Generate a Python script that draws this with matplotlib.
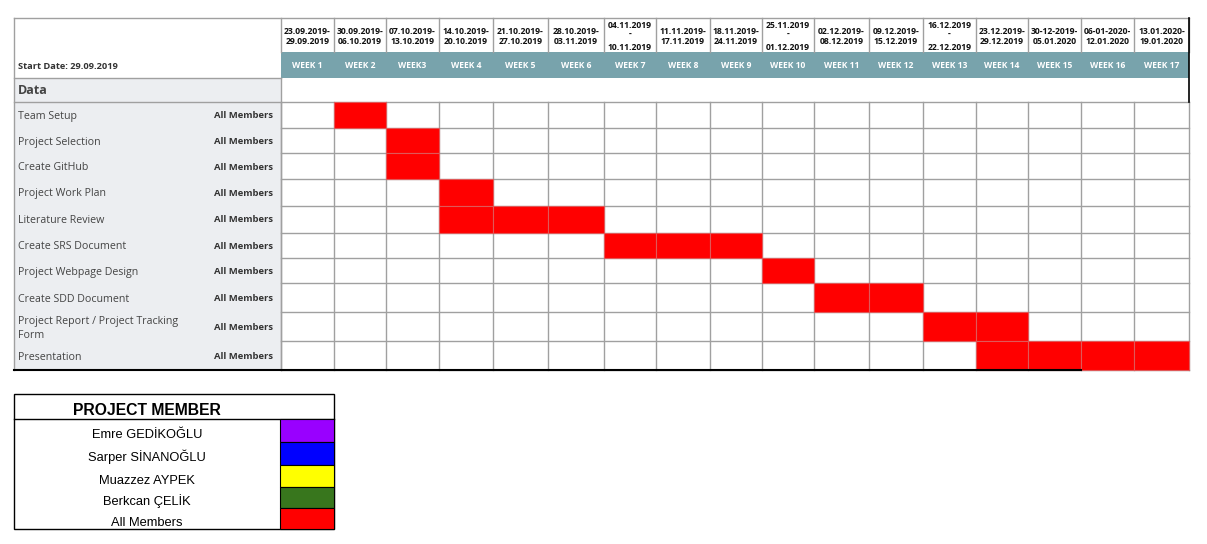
import matplotlib
matplotlib.use("Agg")
import matplotlib.pyplot as plt
from matplotlib.patches import Rectangle

# ---------------- data ----------------
week_labels = ["WEEK 1", "WEEK 2", "WEEK3", "WEEK 4", "WEEK 5", "WEEK 6", "WEEK 7",
               "WEEK 8", "WEEK 9", "WEEK 10", "WEEK 11", "WEEK 12", "WEEK 13",
               "WEEK 14", "WEEK 15", "WEEK 16", "WEEK 17"]
week_dates = ["23.09.2019-\n29.09.2019", "30.09.2019-\n06.10.2019", "07.10.2019-\n13.10.2019",
              "14.10.2019-\n20.10.2019", "21.10.2019-\n27.10.2019", "28.10.2019-\n03.11.2019",
              "04.11.2019\n-\n10.11.2019", "11.11.2019-\n17.11.2019", "18.11.2019-\n24.11.2019",
              "25.11.2019\n-\n01.12.2019", "02.12.2019-\n08.12.2019", "09.12.2019-\n15.12.2019",
              "16.12.2019\n-\n22.12.2019", "23.12.2019-\n29.12.2019", "30-12-2019-\n05.01.2020",
              "06-01-2020-\n12.01.2020", "13.01.2020-\n19.01.2020"]
start_date = "Start Date: 29.09.2019"
tasks = ["Team Setup", "Project Selection", "Create GitHub", "Project Work Plan",
         "Literature Review", "Create SRS Document", "Project Webpage Design",
         "Create SDD Document", "Project Report / Project Tracking\nForm", "Presentation"]
assignees = ["All Members"] * 10
task_start_week = [2, 3, 3, 4, 4, 7, 10, 11, 13, 14]
task_duration = [1, 1, 1, 1, 3, 3, 1, 2, 2, 4]
members = ["Emre GEDİKOĞLU", "Sarper SİNANOĞLU", "Muazzez AYPEK", "Berkcan ÇELİK", "All Members"]
member_colors = ["#9900ff", "#0000ff", "#ffff00", "#38761d", "#ff0000"]

# ---------------- layout (pixels) ----------------
W, H = 1207, 544
COL_EDGES = [281, 334, 386, 439, 493, 548, 604, 656, 710, 762, 814, 869, 923, 976,
             1028, 1081, 1134, 1189]
ROW_EDGES = [102, 128, 153, 179, 205.5, 232.5, 258, 283, 312, 341, 370]
LEFT = 14
LABEL_R = 281
TOP = 18
TEAL_T, TEAL_B = 52, 78
DATA_B = 102
GRID = "#a0a0a0"
TEAL = "#78a3ac"
LABEL_BG = "#eceef1"
TXT = "#444444"
SANS = ["Open Sans", "DejaVu Sans"]
ARIAL = ["Liberation Sans", "DejaVu Sans"]

fig = plt.figure(figsize=(W / 100, H / 100), dpi=100)
ax = fig.add_axes([0, 0, 1, 1])
ax.set_xlim(0, W)
ax.set_ylim(H, 0)
ax.axis("off")

# label area background
ax.add_patch(Rectangle((LEFT, TEAL_B), LABEL_R - LEFT, ROW_EDGES[-1] - TEAL_B,
                       facecolor=LABEL_BG, edgecolor="none", zorder=0))
# teal band
ax.add_patch(Rectangle((LABEL_R, TEAL_T), COL_EDGES[-1] - LABEL_R, TEAL_B - TEAL_T,
                       facecolor=TEAL, edgecolor="none", zorder=1))

# grid lines in task area
for x in COL_EDGES:
    ax.plot([x, x], [DATA_B, ROW_EDGES[-1]], color=GRID, lw=1, zorder=2)
for y in ROW_EDGES:
    ax.plot([LABEL_R, COL_EDGES[-1]], [y, y], color=GRID, lw=1, zorder=2)

# red task bars (one cell per week)
for i, (s, d) in enumerate(zip(task_start_week, task_duration)):
    y0, y1 = ROW_EDGES[i], ROW_EDGES[i + 1]
    for k in range(d):
        x0 = COL_EDGES[s - 1 + k]
        x1 = COL_EDGES[s + k]
        ax.barh((y0 + y1) / 2, x1 - x0, height=y1 - y0, left=x0, color="#ff0000",
                edgecolor="#e05858", linewidth=0.8, zorder=3)

# header separators
for x in COL_EDGES:
    ax.plot([x, x], [TOP, TEAL_T], color=GRID, lw=1, zorder=2)
ax.plot([LEFT, COL_EDGES[-1]], [TOP, TOP], color=GRID, lw=1, zorder=2)
ax.plot([LEFT, LEFT], [TOP, ROW_EDGES[-1]], color=GRID, lw=1, zorder=2)
ax.plot([LEFT, LABEL_R], [TEAL_B, TEAL_B], color=GRID, lw=1, zorder=2)
ax.plot([LEFT, LABEL_R], [DATA_B, DATA_B], color=GRID, lw=1, zorder=2)
ax.plot([LABEL_R, LABEL_R], [TEAL_B, ROW_EDGES[-1]], color=GRID, lw=1, zorder=2)
# right black border in header area
ax.plot([COL_EDGES[-1], COL_EDGES[-1]], [TOP, DATA_B], color="black", lw=1.2, zorder=4)
# bottom black line
ax.plot([LEFT, COL_EDGES[15]], [ROW_EDGES[-1], ROW_EDGES[-1]], color="black", lw=1.5, zorder=4)

# header texts
for i in range(len(week_labels)):
    xc = (COL_EDGES[i] + COL_EDGES[i + 1]) / 2
    lines = week_dates[i].split("\n")
    ys = [28.5, 37, 50] if len(lines) == 3 else [33.5, 44.5]
    for ln, yy in zip(lines, ys):
        ax.text(xc, yy, ln, ha="center", va="baseline", fontsize=6.2,
                fontweight="bold", family=SANS, color="#111111", zorder=5)
    ax.text(xc, 68.5, week_labels[i], ha="center", va="baseline", fontsize=6.1,
            fontweight="bold", family=SANS, color="white", zorder=5)

ax.text(18, 69, start_date, ha="left", va="baseline", fontsize=6.7, fontweight="bold",
        family=SANS, color="#333333", zorder=5)
ax.text(18, 94, "Data", ha="left", va="baseline", fontsize=9, fontweight="bold",
        family=SANS, color="#444444", zorder=5)

for i, (t, a) in enumerate(zip(tasks, assignees)):
    yc = (ROW_EDGES[i] + ROW_EDGES[i + 1]) / 2
    lines = t.split("\n")
    if len(lines) == 1:
        ax.text(18, yc + 4, t, ha="left", va="baseline", fontsize=7.7, family=SANS,
                color=TXT, zorder=5)
    else:
        for ln, yy in zip(lines, [yc - 2.5, yc + 11.2]):
            ax.text(18, yy, ln, ha="left", va="baseline", fontsize=7.7, family=SANS,
                    color=TXT, zorder=5)
    ax.text(273, yc + 3.5, a, ha="right", va="baseline", fontsize=6.8, fontweight="bold",
            family=SANS, color="#333333", zorder=5)

# ---------------- legend table ----------------
LG_L, LG_R = 14, 334
LG_T, LG_HB = 394, 419
LG_ROWS = [419, 441.5, 464.5, 486.5, 508, 529]
SW_L = 280
ax.add_patch(Rectangle((LG_L, LG_T), LG_R - LG_L, LG_ROWS[-1] - LG_T,
                       facecolor="white", edgecolor="black", lw=1, zorder=3))
ax.plot([LG_L, LG_R], [LG_HB, LG_HB], color="black", lw=1, zorder=4)
ax.text(147, 415, "PROJECT MEMBER", ha="center", va="baseline", fontsize=11.3,
        fontweight="bold", family=ARIAL, color="black", zorder=5)
for i, (m, c) in enumerate(zip(members, member_colors)):
    y0, y1 = LG_ROWS[i], LG_ROWS[i + 1]
    ax.barh((y0 + y1) / 2, LG_R - SW_L, height=y1 - y0, left=SW_L, color=c,
            edgecolor="black", linewidth=0.8, zorder=4)
    ax.text(147, y1 - 3, m, ha="center", va="baseline", fontsize=9.3,
            family=ARIAL, color="black", zorder=5)

fig.savefig("out.png", dpi=100)
